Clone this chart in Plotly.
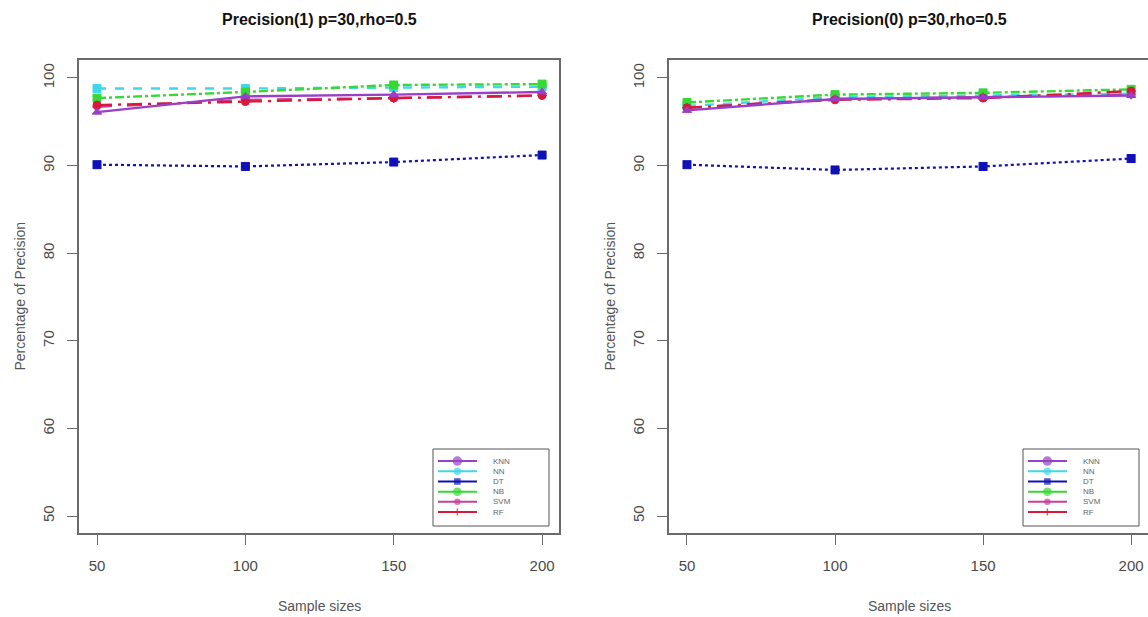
import plotly.graph_objects as go

W, H = 1148, 617

sample_sizes = [50, 100, 150, 200]
methods = ["KNN", "NN", "DT", "NB", "SVM", "RF"]

# Precision(1)
p1_knn = [96.1, 97.9, 98.1, 98.4]
p1_nn = [98.8, 98.8, 98.9, 99.0]
p1_dt = [90.1, 89.9, 90.4, 91.2]
p1_nb = [97.7, 98.4, 99.2, 99.3]
p1_svm = [96.7, 97.5, 97.7, 98.0]
p1_rf = [96.9, 97.3, 97.7, 98.0]

# Precision(0)
p0_knn = [96.3, 97.6, 97.8, 98.0]
p0_nn = [96.8, 97.8, 98.0, 98.2]
p0_dt = [90.1, 89.5, 89.9, 90.8]
p0_nb = [97.2, 98.1, 98.3, 98.7]
p0_svm = [96.6, 97.6, 97.8, 98.1]
p0_rf = [96.6, 97.5, 97.7, 98.5]

titles = ["Precision(1) p=30,rho=0.5", "Precision(0) p=30,rho=0.5"]
y_ticks = [50, 60, 70, 80, 90, 100]
x_ticks = [50, 100, 150, 200]

colors = {"KNN": "#9a3fc8", "NN": "#3fd8e8", "DT": "#1010b8", "NB": "#35d835",
          "SVM": "#c8409a", "RF": "#d81a3a"}
dashes = {"KNN": "solid", "NN": "dash", "DT": "dot", "NB": "dashdot",
          "SVM": "longdash", "RF": "longdashdot"}
symbols = {"KNN": "triangle-up", "NN": "square", "DT": "square-x", "NB": "square",
           "SVM": "diamond", "RF": "circle"}
msizes = {"KNN": 8, "NN": 8, "DT": 8, "NB": 8, "SVM": 7, "RF": 8}
lwidths = {"KNN": 2.4, "NN": 2.4, "DT": 2.2, "NB": 2.4, "SVM": 2.4, "RF": 2.4}
leg_symbols = {"KNN": "circle", "NN": "circle", "DT": "square", "NB": "circle",
               "SVM": "circle", "RF": "cross-thin"}
leg_sizes = {"KNN": 8, "NN": 6, "DT": 5, "NB": 7, "SVM": 5, "RF": 5}

panels = [
    {"KNN": p1_knn, "NN": p1_nn, "DT": p1_dt, "NB": p1_nb, "SVM": p1_svm, "RF": p1_rf},
    {"KNN": p0_knn, "NN": p0_nn, "DT": p0_dt, "NB": p0_nb, "SVM": p0_svm, "RF": p0_rf},
]

fig = go.Figure()

px_x = lambda p: p / W
px_y = lambda p: 1 - p / H

x_domains = [[px_x(79), px_x(559)], [px_x(669), 1.0]]
y_domain = [px_y(533), px_y(60)]
leg_x = [[433, 549], [1023, 1139]]
leg_y = [449, 526]

axis_line = "#6a6a6a"
tick_font = dict(family="Liberation Sans, Arial, sans-serif", size=15, color="#4a4a4a")

draw_order = ["DT", "NN", "NB", "SVM", "RF", "KNN"]

for i, data in enumerate(panels):
    xa = "x" if i == 0 else "x2"
    ya = "y" if i == 0 else "y2"
    for m in draw_order:
        fig.add_trace(go.Scatter(
            x=sample_sizes, y=data[m], mode="lines+markers", xaxis=xa, yaxis=ya,
            line=dict(color=colors[m], width=lwidths[m], dash=dashes[m]),
            marker=dict(symbol=symbols[m], size=msizes[m], color=colors[m],
                        line=dict(width=1, color=colors[m])),
            showlegend=False, hoverinfo="skip"))

    # legend drawn in its own small hidden axes
    lx = "x%d" % (i + 3)
    ly = "y%d" % (i + 3)
    for k, m in enumerate(methods):
        fig.add_trace(go.Scatter(
            x=[0.043, 0.21, 0.379], y=[k, k, k], mode="lines+markers",
            xaxis=lx, yaxis=ly,
            line=dict(color=colors[m], width=2),
            marker=dict(symbol=leg_symbols[m], size=[0, leg_sizes[m], 0],
                        color=colors[m], line=dict(width=1.5, color=colors[m])),
            showlegend=False, hoverinfo="skip"))
        fig.add_annotation(x=0.5, y=k, xref=lx, yref=ly, text=m, showarrow=False,
                           xanchor="left", yanchor="middle",
                           font=dict(family="Liberation Sans, Arial, sans-serif",
                                     size=8, color="#666666"))
    fig.add_shape(type="rect", xref="paper", yref="paper",
                  x0=px_x(leg_x[i][0]), x1=px_x(leg_x[i][1]),
                  y0=px_y(leg_y[1]), y1=px_y(leg_y[0]),
                  line=dict(color="#555555", width=1), fillcolor="rgba(255,255,255,0)")

    # titles
    cx = (x_domains[i][0] + (px_x(559) if i == 0 else px_x(1149))) / 2
    fig.add_annotation(x=cx, y=px_y(19), xref="paper", yref="paper",
                       text="<b>" + titles[i] + "</b>", showarrow=False,
                       xanchor="center", yanchor="middle",
                       font=dict(family="Liberation Sans, Arial, sans-serif", size=16, color="#111111"))
    fig.add_annotation(x=cx, y=px_y(606), xref="paper", yref="paper",
                       text="Sample sizes", showarrow=False, xanchor="center", yanchor="middle",
                       font=dict(family="Liberation Sans, Arial, sans-serif", size=14, color="#555555"))
    fig.add_annotation(x=px_x(19 if i == 0 else 609), y=(y_domain[0] + y_domain[1]) / 2,
                       xref="paper", yref="paper", text="Percentage of Precision",
                       showarrow=False, textangle=-90, xanchor="center", yanchor="middle",
                       font=dict(family="Liberation Sans, Arial, sans-serif", size=14, color="#555555"))

xcommon = dict(range=[43.93, 205.7], tickvals=x_ticks, ticks="outside", ticklen=10,
               tickcolor=axis_line, tickwidth=1.3, showgrid=False, zeroline=False,
               showline=True, linecolor=axis_line, linewidth=1.5, mirror=True,
               tickfont=tick_font, ticklabelstandoff=8)
ycommon = dict(range=[48.06, 102.05], tickvals=y_ticks, ticks="outside", ticklen=10,
               tickcolor=axis_line, tickwidth=1.3, showgrid=False, zeroline=False,
               showline=True, linecolor=axis_line, linewidth=1.5,
               tickfont=tick_font, tickangle=-90, domain=y_domain, ticklabelstandoff=7)

leg_xaxis = dict(range=[0, 1], visible=False, fixedrange=True)
leg_yaxis = dict(range=[6.37, -1.18], visible=False, fixedrange=True)

fig.update_layout(
    width=W, height=H, margin=dict(l=0, r=0, t=0, b=0),
    paper_bgcolor="white", plot_bgcolor="white",
    xaxis=dict(xcommon, domain=x_domains[0], anchor="y"),
    yaxis=dict(ycommon, anchor="x", mirror=True),
    xaxis2=dict(xcommon, domain=x_domains[1], anchor="y2", mirror=True),
    yaxis2=dict(ycommon, anchor="x2", mirror=False),
    xaxis3=dict(leg_xaxis, domain=[px_x(433), px_x(549)], anchor="y3"),
    yaxis3=dict(leg_yaxis, domain=[px_y(526), px_y(449)], anchor="x3"),
    xaxis4=dict(leg_xaxis, domain=[px_x(1023), px_x(1139)], anchor="y4"),
    yaxis4=dict(leg_yaxis, domain=[px_y(526), px_y(449)], anchor="x4"),
    showlegend=False,
)

fig.write_html("out.html")
